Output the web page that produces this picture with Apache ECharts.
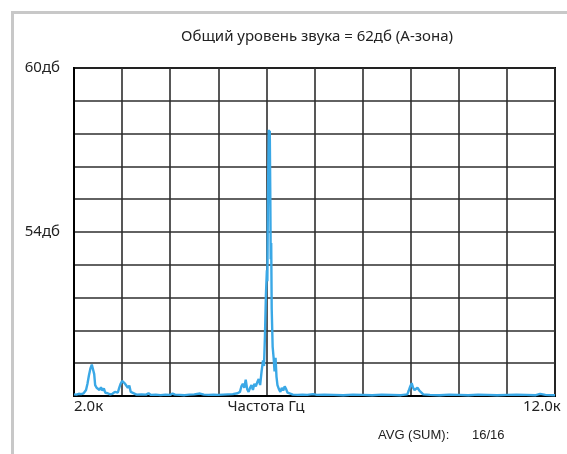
<!DOCTYPE html>
<html>
<head>
<meta charset="utf-8">
<script src="https://cdn.jsdelivr.net/npm/echarts@6/dist/echarts.min.js"></script>
<style>
html,body{margin:0;padding:0;background:#fff;}
#chart{width:567px;height:454px;}
</style>
</head>
<body>
<div id="chart"></div>
<script>
// Frequency in kHz
const freqK = [
  2.00,2.05,2.10,2.15,2.20,2.25,2.28,2.31,2.34,2.37,2.40,2.42,2.44,2.47,2.50,2.53,2.56,2.59,2.62,2.65,2.70,2.75,2.80,2.85,2.88,2.91,2.94,2.97,3.00,3.03,3.06,3.09,3.12,3.15,3.18,3.22,3.30,3.40,3.50,3.55,3.60,3.70,3.80,3.90,4.00,4.05,4.10,4.20,4.30,4.40,4.50,4.62,4.70,4.80,4.90,5.00,5.10,5.20,5.30,5.40,5.45,5.48,5.51,5.54,5.57,5.60,5.63,5.66,5.69,5.72,5.75,5.78,5.81,5.84,5.87,5.90,5.93,5.95,5.97,5.99,6.01,6.02,6.03,6.04,6.05,6.06,6.07,6.08,6.09,6.10,6.11,6.13,6.15,6.17,6.19,6.21,6.23,6.26,6.29,6.32,6.35,6.38,6.41,6.44,6.48,6.55,6.65,6.75,6.85,6.97,7.05,7.20,7.40,7.60,7.80,8.00,8.20,8.40,8.60,8.80,8.93,8.96,8.99,9.02,9.05,9.08,9.11,9.14,9.18,9.22,9.26,9.40,9.60,9.80,10.00,10.20,10.40,10.60,10.80,11.00,11.20,11.40,11.60,11.69,11.80,12.00
];
// Level in dB
const levelDb = [
  48.06,48.05,48.08,48.07,48.10,48.22,48.45,48.75,49.00,49.15,49.12,48.80,48.40,48.30,48.35,48.22,48.32,48.20,48.28,48.12,48.10,48.06,48.08,48.15,48.22,48.12,48.30,48.45,48.55,48.62,48.45,48.50,48.30,48.38,48.15,48.08,48.05,48.06,48.05,48.10,48.04,48.05,48.03,48.05,48.04,48.09,48.05,48.04,48.03,48.05,48.06,48.09,48.05,48.04,48.05,48.04,48.05,48.06,48.07,48.10,48.15,48.35,48.45,48.30,48.60,48.25,48.15,48.30,48.40,48.22,48.45,48.35,48.50,48.62,48.40,48.90,49.30,49.10,50.20,51.70,52.60,52.20,54.80,56.40,57.74,57.30,57.70,55.60,53.00,53.60,51.20,49.80,49.40,48.90,49.40,48.70,48.40,48.25,48.15,48.30,48.20,48.35,48.25,48.12,48.06,48.05,48.04,48.05,48.04,48.07,48.04,48.05,48.04,48.03,48.05,48.04,48.03,48.05,48.04,48.03,48.06,48.20,48.35,48.47,48.30,48.22,48.28,48.30,48.20,48.15,48.06,48.04,48.03,48.05,48.04,48.03,48.05,48.04,48.03,48.04,48.05,48.04,48.03,48.08,48.04,48.03
];
const yTickLabels = { '60': '60дб', '54': '54дб' };
const xTickLabels = ['2.0к', '12.0к'];
const titleText = 'Общий уровень звука = 62дб (А-зона)';
const xAxisName = 'Частота Гц';
const avgLabel = 'AVG (SUM):';
const avgValue = '16/16';

const chart = echarts.init(document.getElementById('chart'), null, {renderer: 'canvas'});
const seriesData = freqK.map((f, i) => [f, levelDb[i]]);
const textFont = '"Noto Sans", sans-serif';

chart.setOption({
  backgroundColor: '#ffffff',
  animation: false,
  grid: {
    left: 74, right: 12, top: 68, bottom: 58,
    show: true, borderColor: '#000', borderWidth: 2, backgroundColor: 'transparent'
  },
  xAxis: {
    type: 'value', min: 2, max: 12, interval: 1,
    axisLine: { show: true, lineStyle: { color: '#000', width: 2 } },
    axisTick: { show: false },
    axisLabel: { show: false },
    splitLine: { show: true, lineStyle: { color: '#2e2e2e', width: 1.6 } }
  },
  yAxis: {
    type: 'value', min: 48, max: 60, interval: 1.2,
    axisLine: { show: true, lineStyle: { color: '#000', width: 2 } },
    axisTick: { show: false },
    axisLabel: {
      show: true, margin: 14, color: '#222', fontSize: 15, fontFamily: textFont,
      formatter: function (v) {
        for (const k in yTickLabels) { if (Math.abs(v - Number(k)) < 0.01) return yTickLabels[k]; }
        return '';
      }
    },
    splitLine: { show: true, lineStyle: { color: '#2e2e2e', width: 1.6 } }
  },
  series: [{
    type: 'line', data: seriesData, showSymbol: false, symbol: 'none',
    lineStyle: { color: '#3aa8e6', width: 2.4 }, z: 3, clip: true
  }],
  graphic: [
    { type: 'rect', z: -10, shape: { x: 12.5, y: 12.5, width: 700, height: 700 },
      style: { fill: 'none', stroke: '#c8c8c8', lineWidth: 3 } },
    { type: 'text', x: 317, y: 29,
      style: { text: titleText, fill: '#222', font: '15px ' + textFont, textAlign: 'center' } },
    { type: 'text', x: 74, y: 399,
      style: { text: xTickLabels[0], fill: '#222', font: '15px ' + textFont } },
    { type: 'text', x: 523, y: 399,
      style: { text: xTickLabels[1], fill: '#222', font: '15px ' + textFont } },
    { type: 'text', x: 266, y: 399,
      style: { text: xAxisName, fill: '#222', font: '15px ' + textFont, textAlign: 'center' } },
    { type: 'text', x: 378, y: 429,
      style: { text: avgLabel, fill: '#222', font: '13px "Liberation Sans", Arial, sans-serif' } },
    { type: 'text', x: 472, y: 429,
      style: { text: avgValue, fill: '#222', font: '13px "Liberation Sans", Arial, sans-serif' } }
  ]
});
</script>
</body>
</html>
